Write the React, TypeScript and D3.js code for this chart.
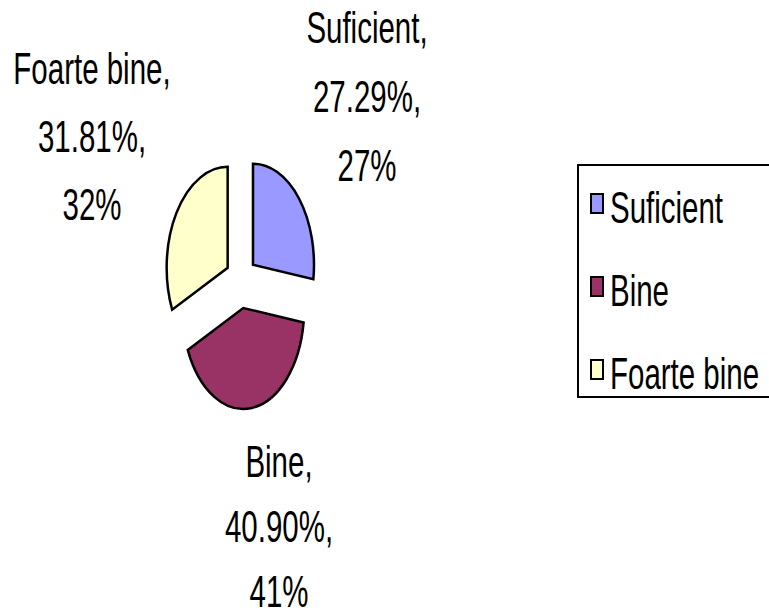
import React, { useEffect, useRef } from "react";
import * as d3 from "d3";

// chart values
const categories = ["Suficient", "Bine", "Foarte bine"];
const percents = [27.29, 40.9, 31.81];
const colors = ["#9999FF", "#993366", "#FFFFCC"];

// label block layout (relative to pie centre): first baseline + line gap
const labelAnchor = [
  { dx: 126, dy: -239, gap: 69 },
  { dx: 38, dy: 195, gap: 65 },
  { dx: -149, dy: -198, gap: 68 },
];

const W = 769;
const H = 615;
const FONT = "'Liberation Sans', Arial, sans-serif";
const FS = 44;
const SX = 0.67;

export default function App() {
  const ref = useRef<SVGSVGElement>(null);

  useEffect(() => {
    const svg = d3.select(ref.current);
    svg.selectAll("*").remove();

    const cx = 241;
    const cy = 282;
    const rx = 61;
    const ry = 101;
    const explode = 0.26;
    const R = 100;

    const data = categories.map((c, i) => ({ name: c, value: percents[i], color: colors[i] }));

    const pie = d3.pie<any>().value((d) => d.value).sort(null);
    const arc = d3.arc<any>().innerRadius(0).outerRadius(R);
    const arcs = pie(data);

    const g = svg
      .append("g")
      .attr("transform", "translate(" + cx + "," + cy + ") scale(" + rx / R + "," + ry / R + ")");

    g.selectAll("path.slice")
      .data(arcs)
      .enter()
      .append("path")
      .attr("class", "slice")
      .attr("transform", (d) => {
        const m = (d.startAngle + d.endAngle) / 2;
        return "translate(" + explode * R * Math.sin(m) + "," + -explode * R * Math.cos(m) + ")";
      })
      .attr("d", arc)
      .attr("fill", (d) => d.data.color)
      .attr("stroke", "#000")
      .attr("stroke-width", 2.5)
      .attr("stroke-linejoin", "miter")
      .attr("vector-effect", "non-scaling-stroke");

    // data labels
    arcs.forEach((d, i) => {
      const a = labelAnchor[i];
      const lines = [
        d.data.name + ",",
        d.data.value.toFixed(2) + "%,",
        Math.round(d.data.value) + "%",
      ];
      lines.forEach((t, j) => {
        svg
          .append("text")
          .attr("transform", "translate(" + (cx + a.dx) + "," + (cy + a.dy + j * a.gap) + ") scale(" + SX + ",1)")
          .attr("text-anchor", "middle")
          .attr("font-family", FONT)
          .attr("font-size", FS)
          .attr("fill", "#000")
          .text(t);
      });
    });

    // legend
    const lx = 578;
    const ly = 165;
    const step = 83;
    const leg = svg.append("g");
    leg
      .append("rect")
      .attr("x", lx)
      .attr("y", ly)
      .attr("width", 250)
      .attr("height", 232)
      .attr("fill", "#fff")
      .attr("stroke", "#000")
      .attr("stroke-width", 2);

    data.forEach((d, i) => {
      const base = ly + 58 + i * step;
      leg
        .append("rect")
        .attr("x", lx + 13)
        .attr("y", base - 29)
        .attr("width", 12)
        .attr("height", 19)
        .attr("fill", d.color)
        .attr("stroke", "#000")
        .attr("stroke-width", 2);
      leg
        .append("text")
        .attr("transform", "translate(" + (lx + 32) + "," + base + ") scale(" + SX + ",1)")
        .attr("font-family", FONT)
        .attr("font-size", FS)
        .attr("fill", "#000")
        .text(d.name);
    });
  }, []);

  return (
    <svg
      ref={ref}
      width={W}
      height={H}
      style={{ position: "absolute", left: 0, top: 0, background: "#fff" }}
    />
  );
}
